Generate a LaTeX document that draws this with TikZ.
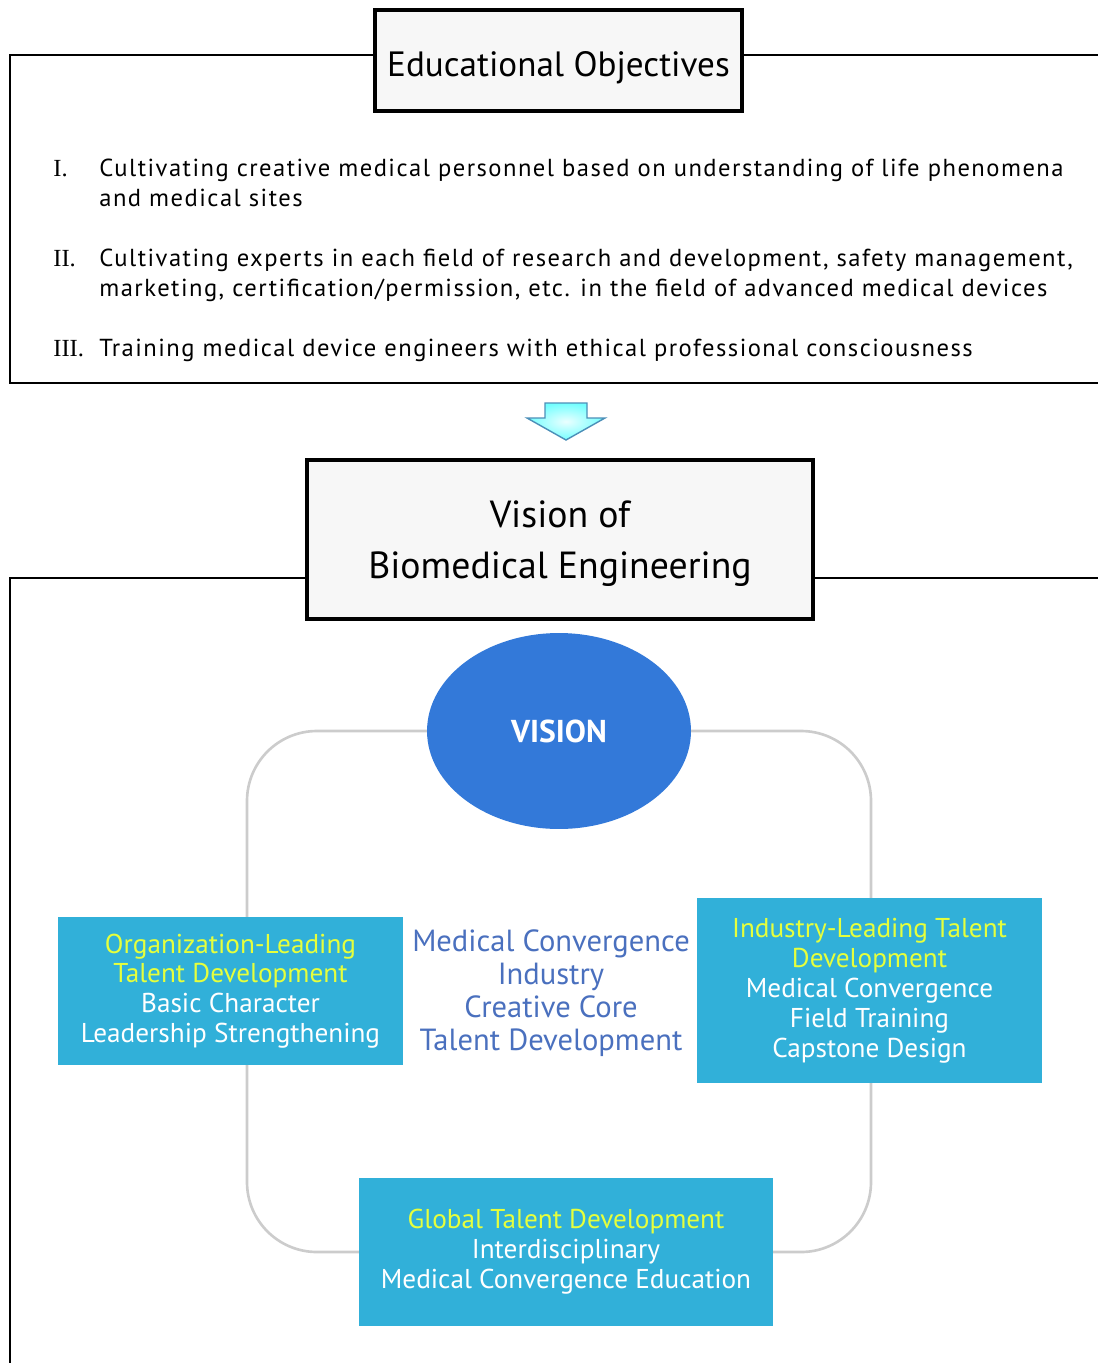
\documentclass[tikz,border=0pt]{standalone}
\usepackage{fontspec}
\setmainfont{PT Sans}
\newfontfamily\numfont{Liberation Serif}
\newfontfamily\listfont[LetterSpace=6]{PT Sans}
\usetikzlibrary{positioning,shapes,calc}

\definecolor{boxcyan}{HTML}{31B0D9}
\definecolor{headyellow}{HTML}{E6FF3C}
\definecolor{visionblue}{HTML}{3379D9}
\definecolor{coreblue}{HTML}{4A70BE}
\definecolor{arrowedge}{HTML}{4C8FB8}

\begin{document}
\begin{tikzpicture}[x=0.02cm,y=-0.02cm]
        \tikzstyle{frame} = [draw,line width=1.3pt]
        \tikzstyle{titlebox} = [draw,line width=1.8pt,fill=black!3,inner sep=0pt]
        \tikzstyle{goalbox} = [fill=boxcyan,text=white,align=center,font=\fontsize{15.5}{17}\selectfont,inner sep=0pt]
        \tikzstyle{goalline} = [anchor=base west,inner sep=0pt,font=\listfont\fontsize{14}{16}\selectfont]
        \useasboundingbox (0,0) rectangle (1098,1363);
        % objectives
        \node [titlebox, minimum width=7.34cm, minimum height=2.02cm] (edu) at (558.5,60.5) {};
        \node [font=\fontsize{20}{24}\selectfont] (edutext) at ([yshift=-4pt]edu.center) {Educational Objectives};
        \coordinate (tl) at (10,55);
        \coordinate (bl) at (10,383);
        \coordinate (br) at (1098,383);
        \coordinate (tr) at (1098,55);
        \draw[frame] (edu.west |- tl) -- (tl) -- (bl) -- (br);
        \draw[frame] (edu.east |- tr) -- (tr);
        \foreach \y/\n in {176/I., 266/II., 356/III.}{
          \node [goalline, font=\numfont\fontsize{14}{16}\selectfont] (n\y) at (53,\y) {\n};
        }
        \foreach \y/\t in {176/{Cultivating creative medical personnel based on understanding of life phenomena},
                           206/{and medical sites},
                           266/{Cultivating experts in each field of research and development, safety management,},
                           296/{marketing, certification/permission, etc. in the field of advanced medical devices},
                           356/{Training medical device engineers with ethical professional consciousness}}{
          \node [goalline] (g\y) at (99,\y) {\t};
        }
        % arrow
        \coordinate (ar) at (566,403);
        \draw [arrowedge, line width=0.8pt, inner color=cyan!8, outer color=cyan!55]
          ($(ar)+(-21,0)$) -- ($(ar)+(21,0)$) -- ($(ar)+(21,15)$) -- ($(ar)+(39,15)$)
          -- ($(ar)+(0,37)$) -- ($(ar)+(-39,15)$) -- ($(ar)+(-21,15)$) -- cycle;
        % vision
        \node [titlebox, minimum width=10.12cm, minimum height=3.18cm] (vis) at (560,539.5) {};
        \node [align=center, font=\fontsize{21.5}{29}\selectfont] (vistext) at ([yshift=-2.5pt]vis.center) {Vision of\\Biomedical Engineering};
        \coordinate (vl) at (10,578);
        \coordinate (vb) at (10,1363);
        \coordinate (vr) at (1098,578);
        \draw[frame] (vis.west |- vl) -- (vl) -- (vb);
        \draw[frame] (vis.east |- vr) -- (vr);
        \draw [black!20, line width=1.5pt, rounded corners=1.4cm] (247,731) rectangle (871,1252);
        \node [ellipse, fill=visionblue, minimum width=5.28cm, minimum height=3.92cm, text=white,
               font=\bfseries\fontsize{18}{21}\selectfont] (eye) at (559,731) {VISION};
        \node [text=coreblue, align=center, font=\fontsize{17.4}{18.7}\selectfont] (core) at (551,993)
          {Medical Convergence\\Industry\\Creative Core\\Talent Development};
        \node [goalbox, minimum width=6.9cm, minimum height=2.96cm] (org) at (230.5,991)
          {\textcolor{headyellow}{Organization-Leading}\\\textcolor{headyellow}{Talent Development}\\Basic Character\\Leadership Strengthening};
        \node [goalbox, minimum width=6.9cm, minimum height=3.7cm] (ind) at (869.5,990.5)
          {\textcolor{headyellow}{Industry-Leading Talent}\\\textcolor{headyellow}{Development}\\Medical Convergence\\Field Training\\Capstone Design};
        \node [goalbox, minimum width=8.28cm, minimum height=2.96cm] (glob) at (566,1252)
          {\textcolor{headyellow}{Global Talent Development}\\Interdisciplinary\\Medical Convergence Education};
      \end{tikzpicture}
\end{document}
